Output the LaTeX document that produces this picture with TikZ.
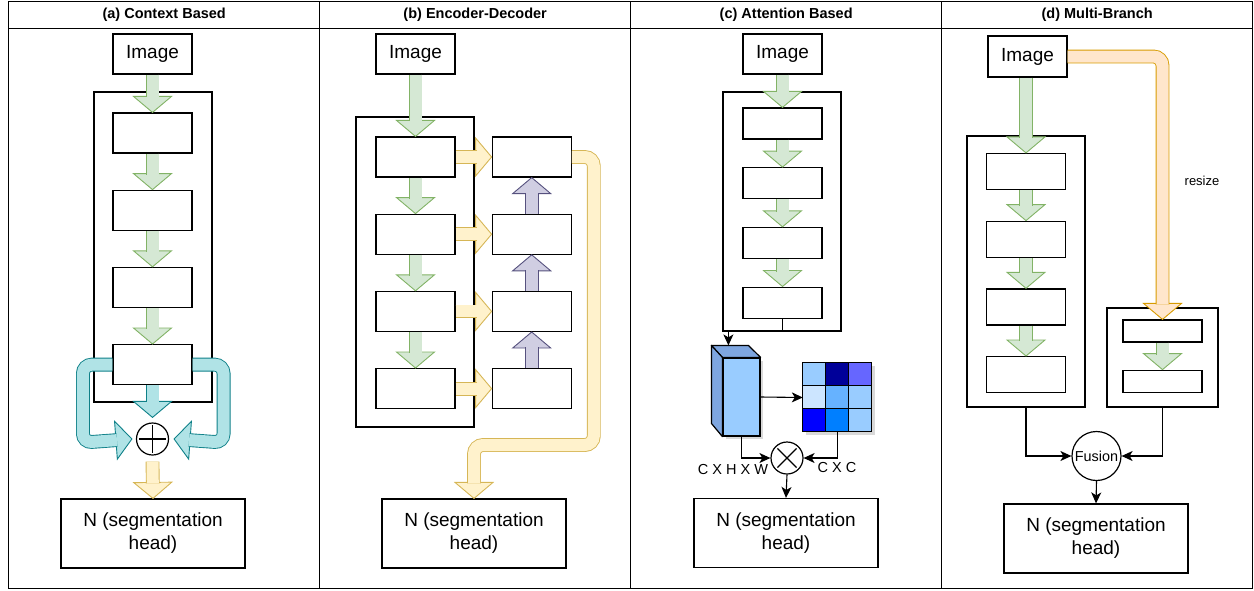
\documentclass[tikz,border=0pt]{standalone}
\usepackage{fontspec}
\setmainfont{Liberation Sans}
\usetikzlibrary{arrows.meta,positioning,fit,calc,shadows}

\definecolor{grnline}{HTML}{82B366}
\definecolor{grnfill}{HTML}{D5E8D4}
\definecolor{ylwline}{HTML}{D6B656}
\definecolor{ylwfill}{HTML}{FFF2CC}
\definecolor{prpline}{HTML}{56517E}
\definecolor{prpfill}{HTML}{D0CEE2}
\definecolor{tealline}{HTML}{0E8088}
\definecolor{tealfill}{HTML}{B0E3E6}
\definecolor{orgline}{HTML}{D79B00}
\definecolor{orgfill}{HTML}{FFE6CC}
\definecolor{cubefront}{HTML}{99CCFF}
\definecolor{cubeside}{HTML}{7EA6E0}

% fat arrow: #1 colour, #2 path before last point, #3 last point, #4 tip
\newcommand{\fatarrow}[4]{%
  \coordinate (hb) at ($#4!16pt!#3$);
  \filldraw[fathead=#1] ($(hb)!19pt!90:#4$) -- #4 -- ($(hb)!19pt!-90:#4$) -- cycle;
  \draw[fatshaft=#1] #2 #3 -- ($#4!15pt!#3$);
}

\begin{document}
\begin{tikzpicture}[
  x=1pt, y=-1pt,
  font=\fontsize{19}{23}\selectfont,
  lanehead/.style={draw, line width=1.4pt, minimum width=311pt, minimum height=27pt, inner sep=0pt, font=\bfseries\fontsize{14.5}{17}\selectfont},
  lanebody/.style={draw, line width=1.4pt, minimum width=311pt, minimum height=560pt, inner sep=0pt},
  block/.style={draw, line width=1.2pt, minimum width=79pt, minimum height=40pt, inner sep=0pt, fill=white},
  headbox/.style={block, minimum width=184pt, minimum height=69pt, align=center},
  frame/.style={draw, line width=1.2pt, inner sep=0pt},
  opcirc/.style={circle, draw, line width=1.2pt, minimum size=32pt, inner sep=0pt, fill=white},
  cell/.style={draw, line width=0.9pt, minimum size=23pt, inner sep=0pt},
  conn/.style={line width=1.1pt, -{Stealth[length=11pt,width=10pt,inset=3pt]}},
  dim/.style={font=\fontsize{14.5}{17}\selectfont},
  fathead/.style={draw=#1line, fill=#1fill, line width=0.9pt, line join=miter},
  fatshaft/.style={draw=#1line, double=#1fill, double distance=12pt, line width=0.9pt, rounded corners=9pt}
]
\useasboundingbox (0,0) rectangle (1254,590);
% lanes
\foreach \lx/\lname/\ltitle in {8/A/{(a) Context Based}, 319/B/{(b) Encoder-Decoder}, 630/C/{(c) Attention Based}, 941/D/{(d) Multi-Branch}} {
  \node[lanebody, anchor=north west] (lane\lname) at (\lx,28) {};
  \node[lanehead, anchor=north west] (head\lname) at (\lx,1) {\ltitle};
}
% (a) context based
\node[block] (imgA) at (152.5,54) {Image};
\node[frame, minimum width=118pt, minimum height=310pt] (bbA) at (153,247) {};
\node[block] (a1) at (152.5,133) {};
\node[block, below=36pt of a1] (a2) {};
\node[block, below=36pt of a2] (a3) {};
\node[block, below=36pt of a3] (a4) {};
\node[opcirc] (sumA) at (152.5,439) {};
\draw[line width=1.2pt, shorten <=3pt, shorten >=3pt] (sumA.north) -- (sumA.south);
\draw[line width=1.2pt, shorten <=3pt, shorten >=3pt] (sumA.west) -- (sumA.east);
\node[headbox] (nhA) at (153,533.5) {N (segmentation\\head)};
\fatarrow{grn}{}{(imgA.south)}{(a1.north)}
\foreach \i/\j in {a1/a2, a2/a3, a3/a4} {\fatarrow{grn}{}{(\i.south)}{(\j.north)}}
\coordinate (tlA) at ($(a4.west)+(-29.5,78)$);
\coordinate (tlT) at ($(sumA.west)+(-4,0)$);
\coordinate (trA) at ($(a4.east)+(31,78)$);
\coordinate (trT) at ($(sumA.east)+(5,0)$);
\coordinate (tdT) at ($(sumA.north)+(0,-5)$);
\coordinate (yA) at ($(sumA.south)+(0,6)$);
\fatarrow{teal}{(a4.west) -- (a4.west -| tlA) --}{(tlA)}{(tlT)}
\fatarrow{teal}{(a4.east) -- (a4.east -| trA) --}{(trA)}{(trT)}
\fatarrow{teal}{}{(a4.south)}{(tdT)}
\fatarrow{ylw}{}{(yA)}{(nhA.north)}
% (b) encoder-decoder
\node[block] (imgB) at (415.5,54) {Image};
\node[frame, minimum width=118pt, minimum height=310pt] (bbB) at (415,272) {};
\node[block] (e1) at (415.5,157) {};
\node[block, below=36pt of e1] (e2) {};
\node[block, below=36pt of e2] (e3) {};
\node[block, below=36pt of e3] (e4) {};
\foreach \i in {1,...,4} {\node[block, right=36pt of e\i] (d\i) {};}
\node[headbox] (nhB) at (474,533.5) {N (segmentation\\head)};
\fatarrow{grn}{}{(imgB.south)}{(e1.north)}
\foreach \i/\j in {1/2, 2/3, 3/4} {
  \fatarrow{grn}{}{(e\i.south)}{(e\j.north)}
  \fatarrow{prp}{}{(d\j.north)}{(d\i.south)}
}
\foreach \i in {1,...,4} {\fatarrow{ylw}{}{(e\i.east)}{(d\i.west)}}
\coordinate (ybB1) at ($(d1.east)+(22,0)$);
\coordinate (ybB2) at ($(ybB1)+(0,288)$);
\coordinate (ybB3) at (nhB.north |- ybB2);
\fatarrow{ylw}{(d1.east) -- (ybB1) -- (ybB2) --}{(ybB3)}{(nhB.north)}
% (c) attention based
\node[block] (imgC) at (782.5,54) {Image};
\node[frame, minimum width=118pt, minimum height=239pt] (bbC) at (782,211.5) {};
\node[block, minimum height=31pt] (c1) at (782.5,123.5) {};
\node[block, minimum height=31pt, below=27.5pt of c1] (c2) {};
\node[block, minimum height=31pt, below=27.5pt of c2] (c3) {};
\node[block, minimum height=31pt, below=27.5pt of c3] (c4) {};
\fatarrow{grn}{}{(imgC.south)}{(c1.north)}
\foreach \i/\j in {c1/c2, c2/c3, c3/c4} {\fatarrow{grn}{}{(\i.south)}{(\j.north)}}
\node[draw, line width=1.2pt, fill=cubefront, minimum width=37pt, minimum height=78pt, inner sep=0pt,
  drop shadow={shadow xshift=3pt, shadow yshift=-3pt, opacity=0.3}] (feat) at (741.5,397) {};
\filldraw[fill=cubeside, line width=1.2pt, line join=round] (feat.north west) -- ++(-11,-12) -- ++(37,0) -- (feat.north east) -- cycle;
\filldraw[fill=cubeside, line width=1.2pt, line join=round] (feat.north west) -- ++(-11,-12) -- ++(0,78) -- (feat.south west) -- cycle;
\node[minimum size=69pt, inner sep=0pt, fill=white,
  drop shadow={shadow xshift=3pt, shadow yshift=-3pt, opacity=0.3}] (attn) at (837.5,397.5) {};
\foreach \col [count=\k from 0] in {99CCFF,000099,6666FF,CCE5FF,66B2FF,99CCFF,0000FF,007FFF,99CCFF} {
  \pgfmathtruncatemacro{\row}{\k/3}
  \pgfmathtruncatemacro{\clm}{mod(\k,3)}
  \definecolor{cellcol}{HTML}{\col}
  \node[cell, fill=cellcol] (cell\k) at ($(attn.north west)+(11.5+23*\clm,11.5+23*\row)$) {};
}
\node[opcirc] (mul) at (787,458) {};
\draw[line width=1.2pt, shorten <=3pt, shorten >=3pt] (mul.north east) -- (mul.south west);
\draw[line width=1.2pt, shorten <=3pt, shorten >=3pt] (mul.north west) -- (mul.south east);
\node[headbox] (nhC) at (786,533) {N (segmentation\\head)};
\node[dim] (dimL) at (733,470) {C X H X W};
\node[dim] (dimR) at (837,468) {C X C};
\coordinate (cubetop) at ($(feat.north west)+(6,-12)$);
\draw[conn] (c4.south) -- ++(0,13) -| (cubetop);
\draw[conn] (feat.east) -- (attn.west);
\draw[conn] (feat.south) |- (mul.west);
\draw[conn] (attn.south) |- (mul.east);
\draw[conn] (mul.south) -- (nhC.north);
% (d) multi-branch
\node[block, minimum height=41pt] (imgD) at (1027.5,56.5) {Image};
\node[frame, minimum width=118pt, minimum height=271pt] (bbD) at (1026,271.5) {};
\node[block, minimum height=36pt] (m1) at (1026,171.5) {};
\node[block, minimum height=36pt, below=30.5pt of m1] (m2) {};
\node[block, minimum height=36pt, below=30.5pt of m2] (m3) {};
\node[block, minimum height=36pt, below=30.5pt of m3] (m4) {};
\node[frame, minimum width=111pt, minimum height=99pt] (bbR) at (1162.5,357.5) {};
\node[block, minimum height=22pt] (r1) at (1162.5,331) {};
\node[block, minimum height=22pt, below=27pt of r1] (r2) {};
\node[opcirc, minimum size=49pt, font=\fontsize{14.4}{16}\selectfont] (fus) at (1096.5,456) {Fusion};
\node[headbox] (nhD) at (1096,538.5) {N (segmentation\\head)};
\node[font=\fontsize{13}{15}\selectfont] (rsz) at (1202,181) {resize};
\fatarrow{grn}{}{(m1.north |- imgD.south)}{(m1.north)}
\foreach \i/\j in {m1/m2, m2/m3, m3/m4, r1/r2} {\fatarrow{grn}{}{(\i.south)}{(\j.north)}}
\fatarrow{org}{(imgD.east) --}{(imgD.east -| r1.north)}{(r1.north)}
\draw[conn] (bbD.south) |- (fus.west);
\draw[conn] (bbR.south) |- (fus.east);
\draw[conn] (fus.south) -- (nhD.north);
\end{tikzpicture}
\end{document}
